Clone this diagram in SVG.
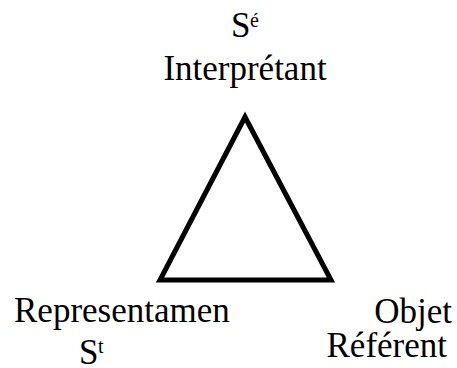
<svg xmlns="http://www.w3.org/2000/svg" width="457" height="368" viewBox="0 0 457 368">
<style>
.tri{fill:none;stroke:#000;stroke-width:5;stroke-linejoin:miter}
</style>
<rect width="457" height="368" fill="#fff"/>
<g id="connectors">
<polygon class="tri" points="245,117 160,280 331,280"/>
</g>
<g id="interpretant">
<text x="231" y="37" font-family="Liberation Serif" font-size="35">S</text>
<text x="250" y="27" font-family="Liberation Serif" font-size="20">é</text>
<text x="245" y="80" font-family="Liberation Serif" font-size="35" text-anchor="middle">Interprétant</text>
</g>
<g id="representamen">
<text x="14" y="322" font-family="Liberation Serif" font-size="35">Representamen</text>
<text x="79" y="364" font-family="Liberation Serif" font-size="35">S</text>
<text x="98" y="353" font-family="Liberation Serif" font-size="20">t</text>
</g>
<g id="objet">
<text x="452" y="323" font-family="Liberation Serif" font-size="35" text-anchor="end">Objet</text>
<text x="447" y="357" font-family="Liberation Serif" font-size="35" text-anchor="end">Référent</text>
</g>
</svg>
